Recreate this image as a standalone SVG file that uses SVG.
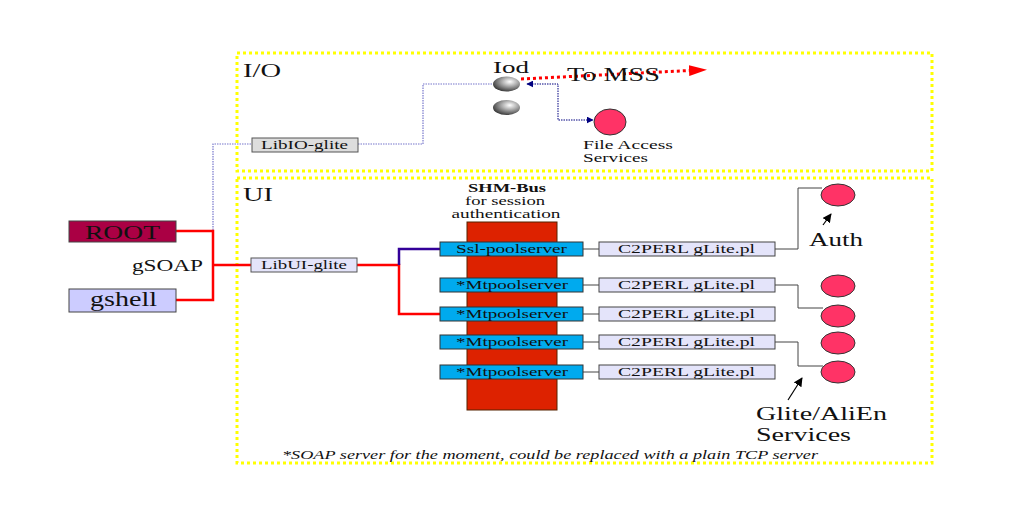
<svg xmlns="http://www.w3.org/2000/svg" width="1024" height="512" viewBox="0 0 1024 512">
<style>
text{font-family:"Liberation Serif","Times New Roman",serif;fill:#111}
.zone{fill:none;stroke:#ffff00;stroke-width:3;stroke-dasharray:3 3}
.lbl{font-size:12.5px}
.big{font-size:19px}
.pool{fill:#00aaee;stroke:#333;stroke-width:1}
.perl{fill:#e4e4fa;stroke:#444;stroke-width:1}
.svc{fill:#ff3366;stroke:#333;stroke-width:1}
.red{fill:none;stroke:#ff0000;stroke-width:2.5}
.gray{fill:none;stroke:#444;stroke-width:1}
.blued{fill:none;stroke:#7777cc;stroke-width:1.2;stroke-dasharray:1.5 1}
</style>
<defs>
<radialGradient id="sph" cx="0.62" cy="0.35" r="0.7">
<stop offset="0" stop-color="#ffffff"/>
<stop offset="0.4" stop-color="#b0b0b0"/>
<stop offset="1" stop-color="#333333"/>
</radialGradient>
<marker id="navy" viewBox="0 0 10 10" refX="9" refY="5" markerWidth="7" markerHeight="7" orient="auto-start-reverse" markerUnits="userSpaceOnUse">
<path d="M0,0 L10,5 L0,10 z" fill="#000080"/>
</marker>
<marker id="redh" viewBox="0 0 18 11" refX="1" refY="5.5" markerWidth="18" markerHeight="11" orient="auto" markerUnits="userSpaceOnUse">
<path d="M0,0 L18,5.5 L0,11 z" fill="#ff0000"/>
</marker>
<marker id="blk" viewBox="0 0 10 10" refX="9" refY="5" markerWidth="9" markerHeight="9" orient="auto" markerUnits="userSpaceOnUse">
<path d="M0,0 L10,5 L0,10 z" fill="#000"/>
</marker>
</defs>
<rect width="1024" height="512" fill="#ffffff"/>

<g id="zone-io">
<rect class="zone" x="237" y="53" width="695" height="118"/>
<text x="243" y="77" class="big" textLength="38" lengthAdjust="spacingAndGlyphs">I/O</text>
</g>
<g id="zone-ui">
<rect class="zone" x="237" y="178" width="695" height="285"/>
<text x="243" y="201" class="big" textLength="30" lengthAdjust="spacingAndGlyphs">UI</text>
</g>

<g id="shm-bus">
<rect x="467" y="222" width="90" height="188" fill="#dd2200" stroke="#552200" stroke-width="1"/>
<text x="507" y="192" class="lbl" font-weight="bold" text-anchor="middle" textLength="78" lengthAdjust="spacingAndGlyphs">SHM-Bus</text>
<text x="505" y="205" class="lbl" text-anchor="middle" textLength="80" lengthAdjust="spacingAndGlyphs">for session</text>
<text x="506" y="218" class="lbl" text-anchor="middle" textLength="109" lengthAdjust="spacingAndGlyphs">authentication</text>
</g>

<g id="connectors">
<polyline class="blued" points="213,230 213,144 252,144"/>
<polyline class="blued" points="358,144 423,144 423,84 493,84"/>
<polyline class="red" points="176,231 213,231 213,300 176,300"/>
<line class="red" x1="213" y1="265" x2="251" y2="265"/>
<polyline class="red" points="357,265 399,265 399,314 440,314"/>
<polyline fill="none" stroke="#330099" stroke-width="2.5" points="399,265 399,249 440,249"/>
<polyline fill="none" stroke="#000080" stroke-width="1" stroke-dasharray="1.5 1" points="527,84 558,84 558,120 593,120" marker-start="url(#navy)" marker-end="url(#navy)"/>
<path d="M521,79 L690,70.5" fill="none" stroke="#ff0000" stroke-width="3" stroke-dasharray="3 3" marker-end="url(#redh)"/>
<line class="gray" x1="583" y1="249" x2="599" y2="249"/>
<line class="gray" x1="583" y1="285" x2="599" y2="285"/>
<line class="gray" x1="583" y1="314" x2="599" y2="314"/>
<line class="gray" x1="583" y1="342" x2="599" y2="342"/>
<line class="gray" x1="583" y1="372" x2="599" y2="372"/>
<polyline class="gray" points="775,249 798,249 798,188 822,188"/>
<polyline class="gray" points="775,285 798,285 798,308 823,308"/>
<polyline class="gray" points="775,342 798,342 798,366 823,366"/>
<line x1="823" y1="225" x2="831" y2="214" stroke="#000" stroke-width="1.2" marker-end="url(#blk)"/>
<line x1="788" y1="400" x2="802" y2="378" stroke="#000" stroke-width="1.2" marker-end="url(#blk)"/>
</g>

<g id="root">
<rect x="69" y="221" width="107" height="21" fill="#aa0044" stroke="#444" stroke-width="1"/>
<text x="85" y="239" font-size="19" textLength="75" lengthAdjust="spacingAndGlyphs">ROOT</text>
</g>
<g id="gshell">
<rect x="69" y="289" width="107" height="23" fill="#ccccff" stroke="#444" stroke-width="1"/>
<text x="90" y="306" font-size="20" textLength="67" lengthAdjust="spacingAndGlyphs">gshell</text>
</g>
<g id="gsoap">
<text x="132" y="271" font-size="16" textLength="71" lengthAdjust="spacingAndGlyphs">gSOAP</text>
</g>

<g id="libio">
<rect x="252" y="138" width="106" height="14" fill="#dddddd" stroke="#555" stroke-width="1"/>
<text x="261" y="149" class="lbl" textLength="87" lengthAdjust="spacingAndGlyphs">LibIO-glite</text>
</g>
<g id="libui">
<rect x="251" y="258" width="106" height="14" fill="#e4e4fa" stroke="#555" stroke-width="1"/>
<text x="261" y="269" class="lbl" textLength="86" lengthAdjust="spacingAndGlyphs">LibUI-glite</text>
</g>

<g id="iod">
<text x="493" y="73" font-size="17" textLength="36" lengthAdjust="spacingAndGlyphs">Iod</text>
<ellipse cx="506.5" cy="84" rx="13.5" ry="7.5" fill="url(#sph)"/>
<ellipse cx="506.5" cy="107.5" rx="13.5" ry="7.5" fill="url(#sph)"/>
</g>
<g id="to-mss">
<text x="567" y="81" font-size="19" textLength="93" lengthAdjust="spacingAndGlyphs">To MSS</text>
</g>
<g id="file-access">
<ellipse class="svc" cx="610" cy="122" rx="16" ry="13"/>
<text x="583" y="149" class="lbl" textLength="90" lengthAdjust="spacingAndGlyphs">File Access</text>
<text x="583" y="162" class="lbl" textLength="65" lengthAdjust="spacingAndGlyphs">Services</text>
</g>

<g id="ssl-poolserver">
<rect class="pool" x="440" y="242" width="143" height="14"/>
<text x="456" y="253" class="lbl" textLength="111" lengthAdjust="spacingAndGlyphs">Ssl-poolserver</text>
</g>
<g id="mtpool-1">
<rect class="pool" x="440" y="278" width="143" height="14"/>
<text x="456" y="289" class="lbl" textLength="112" lengthAdjust="spacingAndGlyphs">*Mtpoolserver</text>
</g>
<g id="mtpool-2">
<rect class="pool" x="440" y="307" width="143" height="14"/>
<text x="456" y="318" class="lbl" textLength="112" lengthAdjust="spacingAndGlyphs">*Mtpoolserver</text>
</g>
<g id="mtpool-3">
<rect class="pool" x="440" y="335" width="143" height="14"/>
<text x="456" y="346" class="lbl" textLength="112" lengthAdjust="spacingAndGlyphs">*Mtpoolserver</text>
</g>
<g id="mtpool-4">
<rect class="pool" x="440" y="365" width="143" height="14"/>
<text x="456" y="376" class="lbl" textLength="112" lengthAdjust="spacingAndGlyphs">*Mtpoolserver</text>
</g>

<g id="c2perl-1">
<rect class="perl" x="599" y="242" width="176" height="14"/>
<text x="618" y="253" class="lbl" textLength="137" lengthAdjust="spacingAndGlyphs">C2PERL gLite.pl</text>
</g>
<g id="c2perl-2">
<rect class="perl" x="599" y="278" width="176" height="14"/>
<text x="618" y="289" class="lbl" textLength="137" lengthAdjust="spacingAndGlyphs">C2PERL gLite.pl</text>
</g>
<g id="c2perl-3">
<rect class="perl" x="599" y="307" width="176" height="14"/>
<text x="618" y="318" class="lbl" textLength="137" lengthAdjust="spacingAndGlyphs">C2PERL gLite.pl</text>
</g>
<g id="c2perl-4">
<rect class="perl" x="599" y="335" width="176" height="14"/>
<text x="618" y="346" class="lbl" textLength="137" lengthAdjust="spacingAndGlyphs">C2PERL gLite.pl</text>
</g>
<g id="c2perl-5">
<rect class="perl" x="599" y="365" width="176" height="14"/>
<text x="618" y="376" class="lbl" textLength="137" lengthAdjust="spacingAndGlyphs">C2PERL gLite.pl</text>
</g>

<g id="auth-service">
<ellipse class="svc" cx="838" cy="195" rx="17" ry="11"/>
<text x="809" y="246" font-size="19" textLength="54" lengthAdjust="spacingAndGlyphs">Auth</text>
</g>
<g id="service-1"><ellipse class="svc" cx="838" cy="286" rx="17" ry="11"/></g>
<g id="service-2"><ellipse class="svc" cx="838" cy="316" rx="17" ry="11"/></g>
<g id="service-3"><ellipse class="svc" cx="838" cy="343" rx="17" ry="11"/></g>
<g id="service-4"><ellipse class="svc" cx="838" cy="372" rx="17" ry="11"/></g>
<g id="glite-label">
<text x="756" y="420" font-size="19" textLength="131" lengthAdjust="spacingAndGlyphs">Glite/AliEn</text>
<text x="756" y="441" font-size="19" textLength="95" lengthAdjust="spacingAndGlyphs">Services</text>
</g>

<g id="footnote">
<text x="282" y="459" font-size="12" font-style="italic" textLength="536" lengthAdjust="spacingAndGlyphs">*SOAP server for the moment, could be replaced with a plain TCP server</text>
</g>
</svg>
